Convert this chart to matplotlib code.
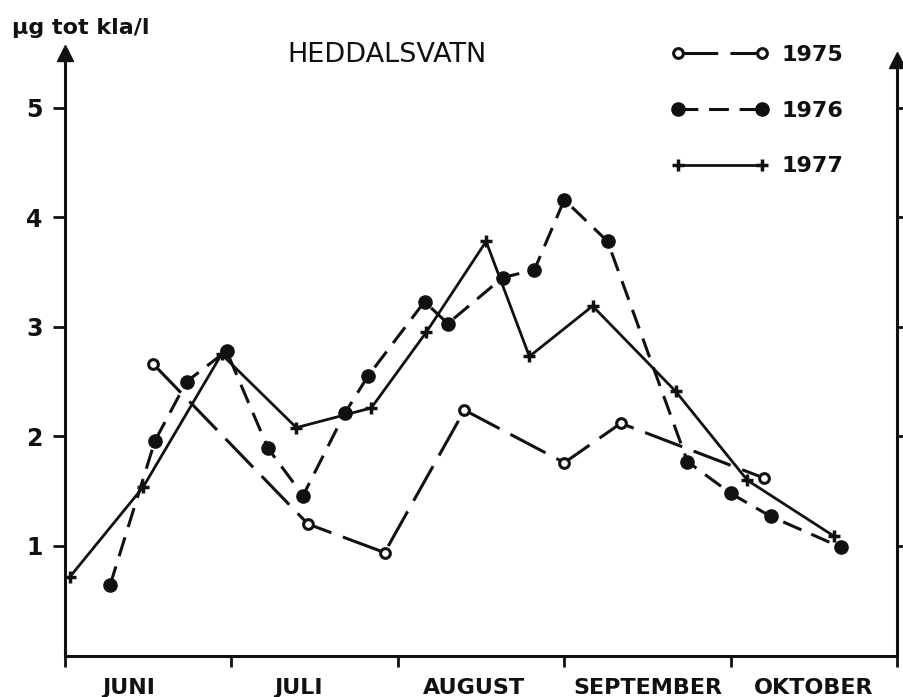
import numpy as np
import matplotlib.pyplot as plt
from matplotlib.ticker import FixedLocator, NullFormatter

# x = posisjon i maaneder fra 1. juni (0 = 1. juni, 1 = 1. juli, ...)
maaneder = ['JUNI', 'JULI', 'AUGUST', 'SEPTEMBER', 'OKTOBER']
maaned_pos = [0.38, 1.40, 2.46, 3.50, 4.50]

x_1975 = [0.53, 1.46, 1.92, 2.40, 3.00, 3.34, 4.20]
y_1975 = [2.66, 1.20, 0.94, 2.24, 1.76, 2.12, 1.62]

x_1976 = [0.27, 0.54, 0.73, 0.97, 1.22, 1.43, 1.68, 1.82, 2.16, 2.30,
          2.63, 2.82, 3.00, 3.26, 3.74, 4.00, 4.24, 4.66]
y_1976 = [0.64, 1.96, 2.50, 2.78, 1.89, 1.46, 2.21, 2.55, 3.23, 3.03,
          3.45, 3.52, 4.16, 3.78, 1.77, 1.48, 1.27, 0.99]

x_1977 = [0.03, 0.47, 0.94, 1.39, 1.84, 2.17, 2.53, 2.79, 3.17, 3.67, 4.10, 4.62]
y_1977 = [0.72, 1.54, 2.75, 2.08, 2.26, 2.95, 3.78, 2.73, 3.19, 2.41, 1.60, 1.09]

y_ticks = [1, 2, 3, 4, 5]
y_ticklabels = ['1', '2', '3', '4', '5']

ink = '#111111'

fig = plt.figure(figsize=(9.04, 6.97), dpi=100)
ax = fig.add_axes([0.072, 0.0595, 0.9204, 0.8645])

ax.plot(x_1975, y_1975, color=ink, lw=2.2, dashes=(13, 4),
        marker='o', ms=7, mfc='white', mec=ink, mew=2.2, label='1975')
ax.plot(x_1976, y_1976, color=ink, lw=2.2, dashes=(6.5, 3.5),
        marker='o', ms=9.5, mfc=ink, mec=ink, label='1976')
ax.plot(x_1977, y_1977, color=ink, lw=2.0,
        marker='+', ms=9, mew=2.5, label='1977')

ax.set_xlim(0, 5)
ax.set_ylim(0, 5.5)

# akser
ax.spines['top'].set_visible(False)
for side in ['left', 'right', 'bottom']:
    ax.spines[side].set_linewidth(2.2)
    ax.spines[side].set_color(ink)
ax.spines['right'].set_bounds(0, 5.44)
ax.plot([0], [5.5], marker='^', ms=11, color=ink, clip_on=False)
ax.plot([5], [5.44], marker='^', ms=11, color=ink, clip_on=False)

ax.set_yticks(y_ticks)
ax.set_yticklabels(y_ticklabels, fontsize=17, fontweight='bold', color=ink)
ax.tick_params(axis='y', direction='out', length=9, width=2, right=True,
               labelright=False, pad=7, colors=ink)

ax.set_xticks(range(6))
ax.xaxis.set_major_formatter(NullFormatter())
ax.xaxis.set_minor_locator(FixedLocator(maaned_pos))
ax.set_xticklabels(maaneder, minor=True, fontsize=16, fontweight='bold', color=ink)
ax.tick_params(axis='x', which='major', direction='out', length=8, width=2, colors=ink)
ax.tick_params(axis='x', which='minor', length=0, pad=16, colors=ink)

fig.text(0.013, 0.96, 'µg tot kla/l', fontsize=16, fontweight='bold', color=ink,
         va='center')
fig.text(0.428, 0.921, 'HEDDALSVATN', fontsize=19.5, color=ink,
         ha='center', va='center')

leg = ax.legend(loc='upper right', bbox_to_anchor=(0.96, 1.046), frameon=False,
                numpoints=2, handlelength=4.4, handletextpad=0.6, labelspacing=1.6,
                prop={'size': 16, 'weight': 'bold'})
for t in leg.get_texts():
    t.set_color(ink)

fig.savefig('out.png', dpi=100, facecolor='white')
